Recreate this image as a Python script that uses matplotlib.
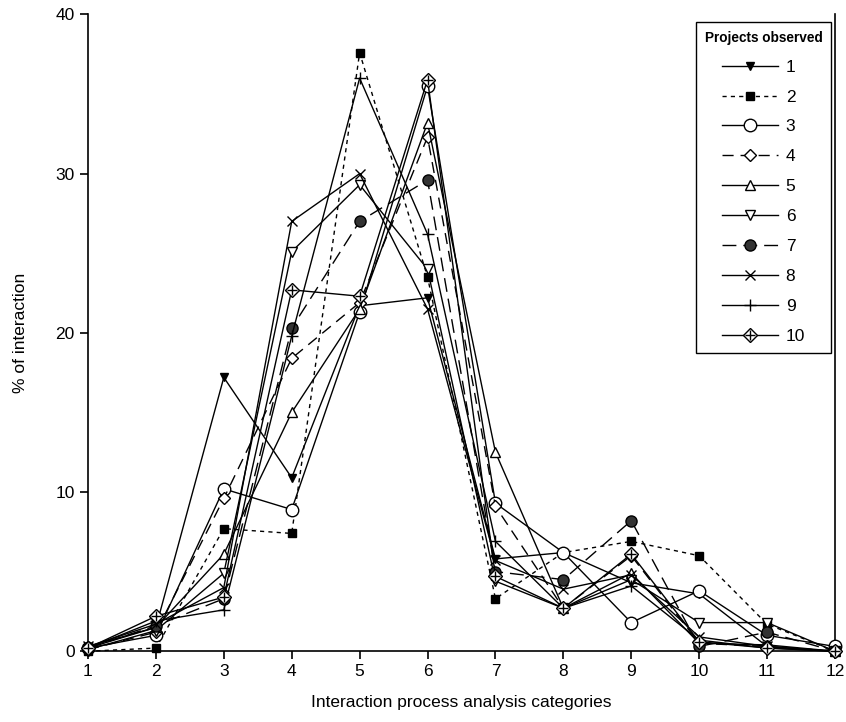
import matplotlib.pyplot as plt

plt.rcParams['font.family'] = ['Liberation Sans', 'DejaVu Sans']

categories = list(range(1, 13))

p1 = [0.2, 1.5, 17.2, 10.9, 21.7, 22.2, 5.8, 6.2, 4.3, 3.6, 0.3, 0.0]
p2 = [0.0, 0.2, 7.7, 7.4, 37.6, 23.5, 3.3, 6.2, 6.9, 6.0, 1.7, 0.0]
p3 = [0.2, 1.0, 10.2, 8.9, 21.3, 35.5, 9.3, 6.2, 1.8, 3.8, 1.0, 0.3]
p4 = [0.1, 1.2, 9.6, 18.4, 21.9, 32.3, 9.1, 2.7, 6.0, 0.5, 0.3, 0.0]
p5 = [0.3, 1.5, 6.1, 15.0, 21.5, 33.2, 12.5, 2.7, 4.9, 0.5, 0.4, 0.0]
p6 = [0.1, 1.3, 4.9, 25.1, 29.3, 24.0, 4.4, 2.7, 4.5, 1.8, 1.8, 0.0]
p7 = [0.2, 1.6, 3.3, 20.3, 27.0, 29.6, 5.0, 4.5, 8.2, 0.3, 1.2, 0.0]
p8 = [0.3, 1.7, 4.0, 27.0, 30.0, 21.5, 5.7, 3.9, 4.8, 0.9, 0.3, 0.0]
p9 = [0.2, 1.9, 2.6, 19.8, 36.0, 26.2, 6.9, 2.7, 4.1, 0.7, 0.2, 0.0]
p10 = [0.2, 2.2, 3.4, 22.7, 22.3, 35.9, 4.7, 2.7, 6.1, 0.6, 0.2, 0.0]

projects = ["1", "2", "3", "4", "5", "6", "7", "8", "9", "10"]
series = [p1, p2, p3, p4, p5, p6, p7, p8, p9, p10]

# marker, face colour, line style, marker size
styles = [
    ("v", "black", "-", 6),
    ("s", "black", (0, (3, 3)), 5.5),
    ("o", "white", "-", 9),
    ("D", "white", (0, (8, 5)), 6),
    ("^", "white", "-", 7),
    ("v", "white", "-", 7),
    ("o", "#333333", (0, (10, 5)), 8),
    ("x", "black", "-", 7),
    ("+", "black", "-", 9),
    ("D", "white", "-", 7.5),
]

fig = plt.figure(figsize=(8.46, 7.22), dpi=100)
ax = fig.add_axes([0.104, 0.098, 0.883, 0.882])

handles = []
for name, vals, (mk, fc, ls, ms) in zip(projects, series, styles):
    line, = ax.plot(categories, vals, color="black", lw=1.0, linestyle=ls,
                    marker=mk, markersize=ms, markerfacecolor=fc,
                    markeredgecolor="black", markeredgewidth=1.0,
                    clip_on=False, zorder=3)
    if name == "10":
        # diamond with a cross inside
        cross, = ax.plot(categories, vals, linestyle="none", marker="+",
                         markersize=ms, color="black", markeredgewidth=1.0,
                         clip_on=False, zorder=4)
        handles.append((line, cross))
    else:
        handles.append(line)

ax.set_xlim(1, 12)
ax.set_ylim(0, 40)
ax.set_xticks(categories)
ax.set_yticks([0, 10, 20, 30, 40])
ax.tick_params(axis="both", direction="out", length=6, width=1.2,
               labelsize=12.5, color="black")
ax.tick_params(axis="y", right=False)
for side in ("left", "bottom", "right"):
    ax.spines[side].set_linewidth(1.2)
ax.spines["top"].set_visible(False)

ax.set_xlabel("Interaction process analysis categories", fontsize=12.5, labelpad=11)
ax.set_ylabel("% of interaction", fontsize=12.5, labelpad=20)

leg = ax.legend(handles, projects, title="Projects observed",
                loc="upper right", bbox_to_anchor=(0.995, 0.988),
                borderaxespad=0, fontsize=12.5, handlelength=3.2,
                labelspacing=0.85, frameon=True, fancybox=False,
                edgecolor="black", framealpha=1, borderpad=0.5,
                handletextpad=0.45)
title = leg.get_title()
title.set_fontweight("bold")
title.set_fontsize(9.8)
leg.get_frame().set_linewidth(1.0)

fig.savefig("out.png", dpi=100)
